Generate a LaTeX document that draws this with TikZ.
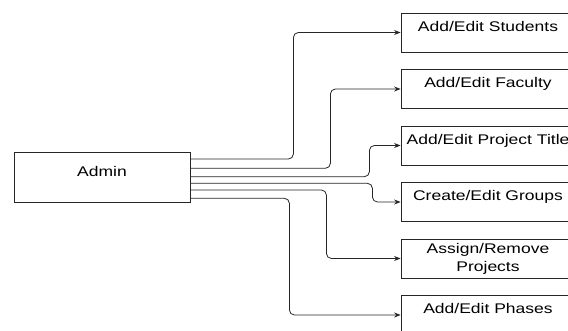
\documentclass[tikz,border=0pt]{standalone}
\usepackage{fontspec}
\setmainfont{Liberation Sans}[FakeStretch=1.25]
\usepackage{tikz}
\usetikzlibrary{arrows.meta,positioning}
\definecolor{linegray}{HTML}{262626}

\begin{document}
\begin{tikzpicture}[
 x=1pt,y=-1pt,
 font=\fontsize{14}{18}\selectfont,
 node distance=16.7pt,
 role/.style={draw=linegray,line width=0.8pt,minimum width=176pt,minimum height=50pt,inner sep=0pt,text height=25pt,text depth=25pt},
 task/.style={draw=linegray,line width=0.8pt,minimum width=174pt,minimum height=39pt,inner sep=0pt,text height=18.4pt,text depth=20.6pt},
 task2/.style={draw=linegray,line width=0.8pt,minimum width=174pt,minimum height=39pt,inner sep=0pt,align=center},
 arr/.style={-{Stealth[length=6.5pt,width=5pt]},line width=0.8pt,draw=linegray,rounded corners=5pt}
]
\clip (0,0) rectangle (568,331);
\node[role] (admin) at (102,177) {Admin};
\node[task] (students) at (488,32.5) {Add/Edit Students};
\node[task,below=of students] (faculty) {Add/Edit Faculty};
\node[task,below=of faculty] (title) {Add/Edit Project Title};
\node[task,below=of title] (groups) {Create/Edit Groups};
\node[task2,below=of groups] (assign) {Assign/Remove\\Projects};
\node[task,below=of assign] (phases) {Add/Edit Phases};
\draw[arr] ([yshift=18pt]admin.east) -- ++(103,0) |- (students.west);
\draw[arr] ([yshift=8.7pt]admin.east) -- ++(140,0) |- (faculty.west);
\draw[arr] ([yshift=0.3pt]admin.east) -- ++(179,0) |- (title.west);
\draw[arr] ([yshift=-6.3pt]admin.east) -- ++(182,0) |- (groups.west);
\draw[arr] ([yshift=-13pt]admin.east) -- ++(136,0) |- (assign.west);
\draw[arr] ([yshift=-21.3pt]admin.east) -- ++(99,0) |- (phases.west);
\end{tikzpicture}
\end{document}
